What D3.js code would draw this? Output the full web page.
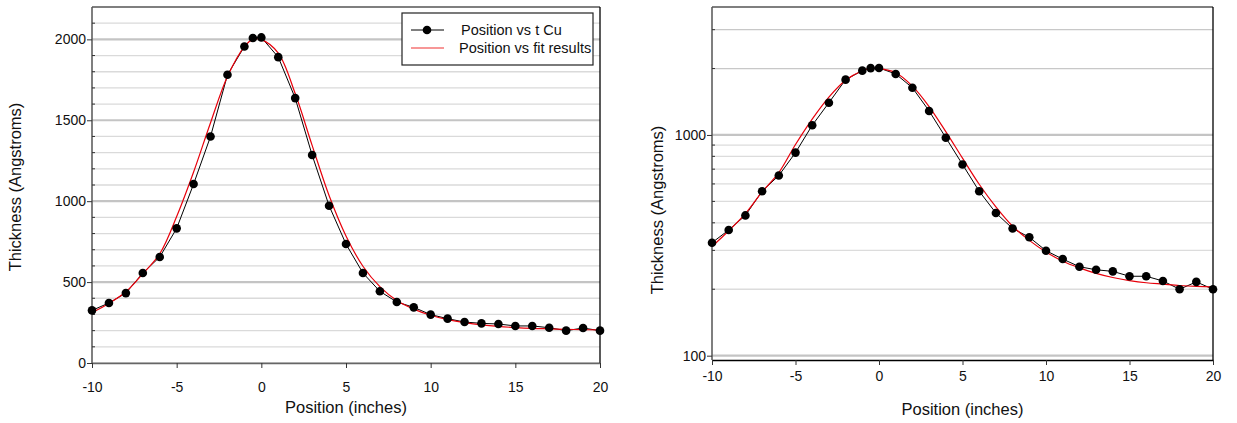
<!DOCTYPE html>
<html>
<head>
<meta charset="utf-8">
<script src="https://cdn.jsdelivr.net/npm/d3@7"></script>
<style>
  body { margin: 0; background: #fff; }
  svg { display: block; font-family: "Liberation Sans", Arial, sans-serif; }
</style>
</head>
<body>
<svg id="chart" width="1237" height="423"></svg>
<script>
// measured thickness (Cu) vs position
const positions = [-10, -9, -8, -7, -6, -5, -4, -3, -2, -1, -0.5, 0, 1, 2, 3, 4, 5, 6, 7, 8, 9, 10, 11, 12, 13, 14, 15, 16, 17, 18, 19, 20];
const thickness = [325, 371, 432, 556, 655, 832, 1106, 1400, 1781, 1956, 2008, 2012, 1890, 1637, 1285, 972, 735, 556, 443, 377, 344, 299, 274, 253, 245, 241, 229, 229, 218, 200, 216, 200];

// fit results
const fitPositions = [-10, -9, -8, -7, -6, -5, -4, -3, -2, -1, -0.5, 0, 1, 2, 3, 4, 5, 6, 7, 8, 9, 10, 11, 12, 13, 14, 15, 16, 17, 18, 19, 20];
const fitThickness = [312, 368, 440, 552, 675, 905, 1180, 1485, 1770, 1955, 2000, 1998, 1915, 1665, 1345, 1035, 785, 598, 472, 386, 333, 295, 268, 250, 236, 226, 219, 214, 211, 208, 206, 205];

const xTicks = [-10, -5, 0, 5, 10, 15, 20];
const linMajor = [0, 500, 1000, 1500, 2000];
const linMinor = [100, 200, 300, 400, 600, 700, 800, 900, 1100, 1200, 1300, 1400, 1600, 1700, 1800, 1900, 2100];
const logMajor = [100, 1000];
const logMinor = [200, 300, 400, 500, 600, 700, 800, 900, 2000, 3000];

const legendLabels = ["Position vs t Cu", "Position vs fit results"];

let svg = d3.select("#chart");

function drawChart(cfg)
{
	let x = d3.scaleLinear().domain([-10, 20]).range([cfg.left, cfg.right]);
	let y = cfg.y;

	let g = svg.append("g");

	// grid
	g.selectAll(".minor-grid")
		.data(cfg.minor)
		.join("line")
		.attr("x1", cfg.left).attr("x2", cfg.right)
		.attr("y1", d => y(d)).attr("y2", d => y(d))
		.attr("stroke", d => cfg.minorColor(d))
		.attr("stroke-width", 1.3);

	g.selectAll(".major-grid")
		.data(cfg.major)
		.join("line")
		.attr("x1", cfg.left).attr("x2", cfg.right)
		.attr("y1", d => y(d)).attr("y2", d => y(d))
		.attr("stroke", "#c4c4c4")
		.attr("stroke-width", 2.2);

	// frame
	g.append("line").attr("x1", cfg.left).attr("x2", cfg.right).attr("y1", cfg.top).attr("y2", cfg.top)
		.attr("stroke", "#555").attr("stroke-width", 1.3);
	g.append("line").attr("x1", cfg.right).attr("x2", cfg.right).attr("y1", cfg.top).attr("y2", cfg.bottom)
		.attr("stroke", "#000").attr("stroke-width", 1.3);

	// y axis
	let yAxis = g.append("g").attr("transform", `translate(${cfg.left},0)`)
		.call(d3.axisLeft(y).tickValues(cfg.major).tickFormat(d => String(d)).tickSize(5).tickSizeOuter(0))
		.call(a => a.select(".domain").attr("d", `M0,${cfg.top}V${cfg.bottom}`).attr("stroke", "#555").attr("stroke-width", 1.5));
	yAxis.selectAll(".tick line").attr("stroke", "#333");
	yAxis.selectAll(".tick text").attr("font-size", 14).attr("fill", "#111")
		.attr("font-family", "Liberation Sans, Arial, sans-serif").attr("x", -6);
	yAxis.selectAll(".minor-tick")
		.data(cfg.minor)
		.join("line")
		.attr("x1", 0).attr("x2", 3)
		.attr("y1", d => y(d)).attr("y2", d => y(d))
		.attr("stroke", "#333");

	// x axis
	let xAxis = g.append("g").attr("transform", `translate(0,${cfg.bottom})`)
		.call(d3.axisBottom(x).tickValues(xTicks).tickFormat(d => String(d)).tickSize(5).tickSizeOuter(0).tickPadding(cfg.xPad));
	xAxis.select(".domain").attr("stroke", cfg.xAxisColor).attr("stroke-width", 1.6);
	xAxis.selectAll(".tick line").attr("stroke", "#333");
	xAxis.selectAll(".tick text").attr("font-size", 14).attr("fill", "#111")
		.attr("font-family", "Liberation Sans, Arial, sans-serif");

	// titles
	g.append("text")
		.attr("x", (cfg.left + cfg.right) / 2)
		.attr("y", cfg.xTitleY)
		.attr("text-anchor", "middle")
		.attr("font-size", 16.5)
		.attr("fill", "#111")
		.text("Position (inches)");
	g.append("text")
		.attr("transform", `translate(${cfg.yTitleX},${cfg.yTitleY}) rotate(-90)`)
		.attr("text-anchor", "middle")
		.attr("dy", "0.35em")
		.attr("font-size", 16.5)
		.attr("fill", "#111")
		.text("Thickness (Angstroms)");

	// series
	let pts = positions.map((p, i) => [p, thickness[i]]);
	let fit = fitPositions.map((p, i) => [p, fitThickness[i]]);

	g.append("path")
		.datum(pts)
		.attr("fill", "none")
		.attr("stroke", "#000")
		.attr("stroke-width", 1)
		.attr("d", d3.line().x(d => x(d[0])).y(d => y(d[1])));

	g.append("path")
		.datum(fit)
		.attr("fill", "none")
		.attr("stroke", "#e8000b")
		.attr("stroke-width", 1.2)
		.attr("d", d3.line().curve(d3.curveCatmullRom).x(d => x(d[0])).y(d => y(d[1])));

	g.selectAll(".dot")
		.data(pts)
		.join("circle")
		.attr("cx", d => x(d[0]))
		.attr("cy", d => y(d[1]))
		.attr("r", 4.3)
		.attr("fill", "#000");
}

drawChart({
	left: 92, right: 600, top: 7, bottom: 363,
	y: d3.scaleLinear().domain([0, 2200]).range([363, 7]),
	major: linMajor, minor: linMinor,
	minorColor: d => "#dadada",
	xAxisColor: "#666", xPad: 14,
	xTitleY: 413, yTitleX: 15, yTitleY: 187
});

drawChart({
	left: 712, right: 1213, top: 7, bottom: 360,
	y: d3.scaleLog().domain([95.6, 3800]).range([360, 7]),
	major: logMajor, minor: logMinor,
	minorColor: d => d >= 2000 ? "#c8c8c8" : "#dcdcdc",
	xAxisColor: "#000", xPad: 6,
	xTitleY: 415, yTitleX: 657, yTitleY: 210
});

// legend (left chart)
let legend = svg.append("g");
legend.append("rect")
	.attr("x", 402).attr("y", 13)
	.attr("width", 191).attr("height", 52)
	.attr("fill", "#fff")
	.attr("stroke", "#222")
	.attr("stroke-width", 1.2);

let rows = legend.selectAll(".row")
	.data(legendLabels)
	.join("g")
	.attr("transform", (d, i) => `translate(0,${30 + i * 18})`);

rows.append("line")
	.attr("x1", 411).attr("x2", 444)
	.attr("y1", 0).attr("y2", 0)
	.attr("stroke", (d, i) => i == 0 ? "#000" : "#f03030")
	.attr("stroke-width", (d, i) => i == 0 ? 1 : 1.2);

rows.filter((d, i) => i == 0)
	.append("circle")
	.attr("cx", 427).attr("cy", 0).attr("r", 4.3)
	.attr("fill", "#000");

rows.append("text")
	.attr("x", (d, i) => i == 0 ? 461 : 459)
	.attr("dy", "0.35em")
	.attr("font-size", 14.5)
	.attr("fill", "#111")
	.text(d => d);
</script>
</body>
</html>
